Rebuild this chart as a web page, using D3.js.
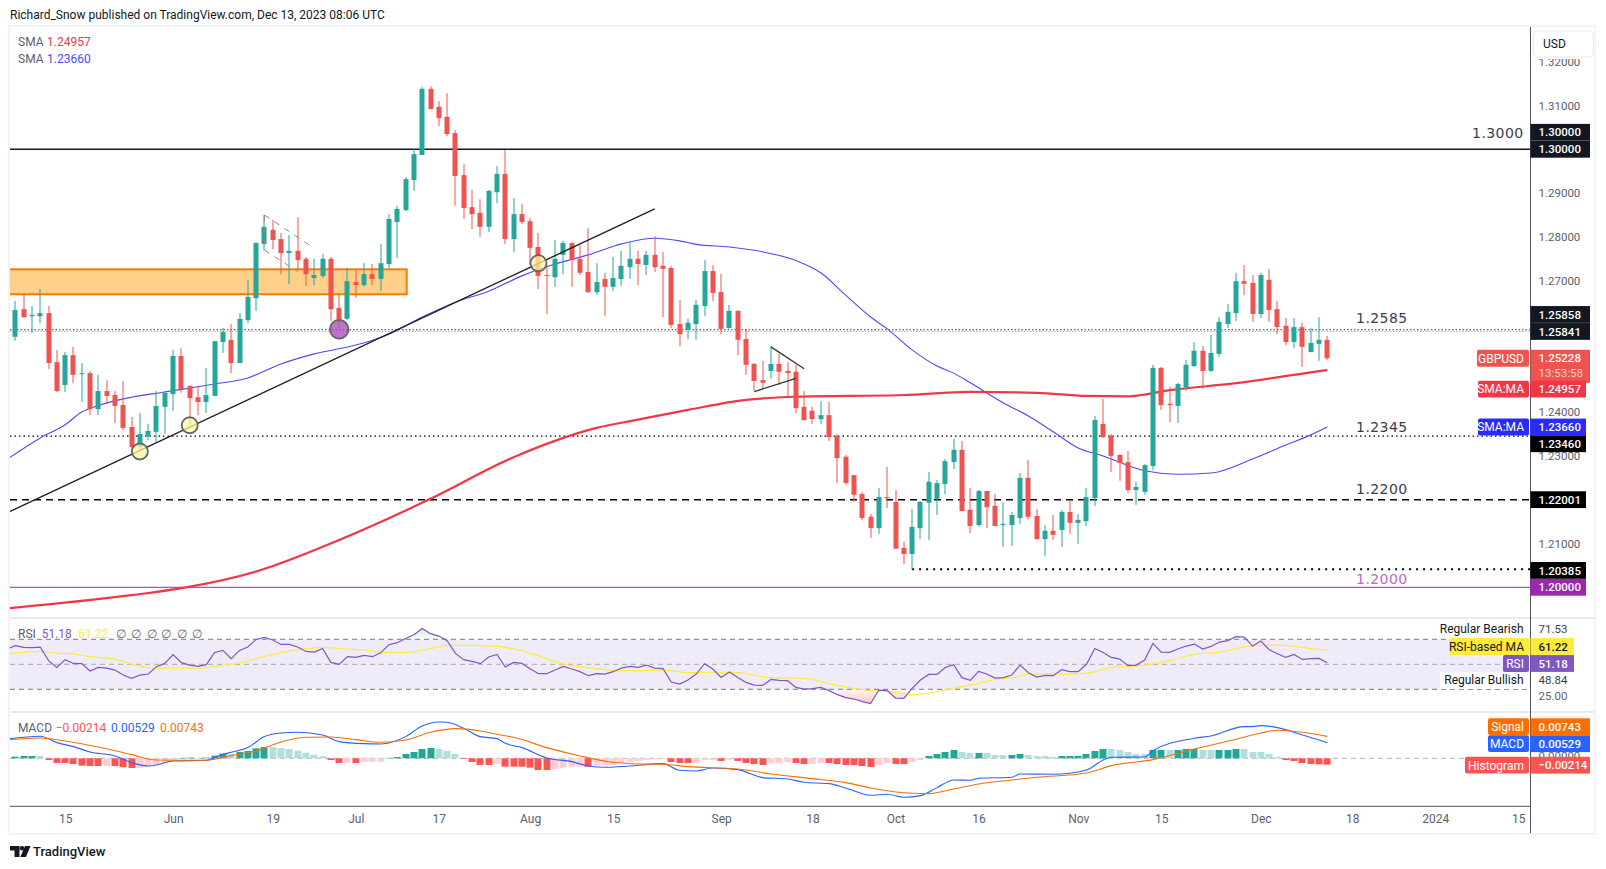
<!DOCTYPE html>
<html>
<head>
<meta charset="utf-8">
<title>GBPUSD</title>
<script src="https://cdn.jsdelivr.net/npm/d3@7"></script>
<style>
  html, body { margin: 0; padding: 0; background: #fff; }
  svg { display: block; }
  text { font-family: Roboto, "Noto Sans", sans-serif; font-size: 12px; }
  .axis path, .axis line { display: none; }
  .axis text { fill: #5d606b; font-family: Roboto, sans-serif; font-size: 12px; }
  .price-axis text { font-size: 11.5px; }
</style>
</head>
<body>
<div id="chart-area"></div>
<script>
// DATA: daily GBPUSD candles, one entry per trading day
const opens = [1.2572,1.2635,1.2619,1.2619,1.2626,1.2514,1.2462,1.2530,1.2487,1.2489,
  1.2407,1.2448,1.2439,1.2416,1.2366,1.2320,1.2345,1.2355,1.2412,1.2441,
  1.2528,1.2460,1.2434,1.2423,1.2437,1.2560,1.2565,1.2512,1.2610,1.2660,
  1.2784,1.2816,1.2795,1.2763,1.2768,1.2750,1.2706,1.2711,1.2750,1.2638,
  1.2613,1.2697,1.2690,1.2715,1.2704,1.2738,1.2834,1.2861,1.2930,1.2987,
  1.3138,1.3097,1.3074,1.3037,1.2941,1.2868,1.2855,1.2823,1.2902,1.2944,
  1.2795,1.2852,1.2836,1.2777,1.2713,1.2708,1.2759,1.2786,1.2750,1.2720,
  1.2674,1.2704,1.2686,1.2704,1.2731,1.2750,1.2736,1.2759,1.2734,1.2729,
  1.2601,1.2588,1.2601,1.2642,1.2722,1.2674,1.2592,1.2631,1.2567,1.2510,
  1.2473,1.2494,1.2510,1.2494,1.2492,1.2412,1.2403,1.2384,1.2393,1.2346,
  1.2298,1.2256,1.2213,1.2161,1.2135,1.2206,1.2195,1.2090,1.2076,1.2135,
  1.2193,1.2202,1.2236,1.2286,1.2314,1.2177,1.2142,1.2220,1.2186,1.2142,
  1.2142,1.2158,1.2250,1.2163,1.2110,1.2129,1.2131,1.2172,1.2147,1.2151,
  1.2204,1.2373,1.2346,1.2302,1.2286,1.2222,1.2218,1.2277,1.2501,1.2419,
  1.2414,1.2457,1.2505,1.2540,1.2494,1.2533,1.2601,1.2626,1.2699,1.2695,
  1.2624,1.2702,1.2635,1.2597,1.2560,1.2594,1.2537,1.2556,1.2565]
const highs = [1.2654,1.2670,1.2642,1.2681,1.2642,1.2542,1.2537,1.2549,1.2512,1.2494,
  1.2485,1.2473,1.2448,1.2471,1.2389,1.2398,1.2373,1.2448,1.2448,1.2542,
  1.2546,1.2460,1.2460,1.2501,1.2562,1.2592,1.2601,1.2626,1.2702,1.2788,
  1.2850,1.2839,1.2809,1.2804,1.2845,1.2754,1.2750,1.2761,1.2754,1.2667,
  1.2729,1.2724,1.2740,1.2738,1.2784,1.2852,1.2871,1.2937,1.3003,1.3142,
  1.3144,1.3110,1.3128,1.3044,1.2966,1.2907,1.2886,1.2907,1.2962,1.2998,
  1.2889,1.2875,1.2843,1.2809,1.2736,1.2793,1.2791,1.2788,1.2781,1.2820,
  1.2740,1.2718,1.2754,1.2768,1.2788,1.2768,1.2768,1.2802,1.2766,1.2734,
  1.2656,1.2613,1.2656,1.2747,1.2736,1.2715,1.2645,1.2633,1.2590,1.2512,
  1.2517,1.2551,1.2533,1.2514,1.2508,1.2448,1.2412,1.2425,1.2423,1.2350,
  1.2302,1.2256,1.2218,1.2167,1.2227,1.2275,1.2222,1.2104,1.2179,1.2197,
  1.2263,1.2245,1.2293,1.2339,1.2334,1.2227,1.2222,1.2220,1.2213,1.2195,
  1.2172,1.2261,1.2291,1.2179,1.2142,1.2165,1.2177,1.2199,1.2167,1.2227,
  1.2391,1.2430,1.2350,1.2304,1.2311,1.2241,1.2282,1.2508,1.2503,1.2457,
  1.2467,1.2519,1.2560,1.2551,1.2576,1.2617,1.2647,1.2718,1.2736,1.2713,
  1.2718,1.2727,1.2654,1.2615,1.2615,1.2604,1.2592,1.2617,1.2574]
const lows = [1.2563,1.2615,1.2581,1.2603,1.2498,1.2446,1.2446,1.2466,1.2423,1.2393,
  1.2393,1.2418,1.2375,1.2359,1.2313,1.2313,1.2336,1.2332,1.2350,1.2403,
  1.2444,1.2371,1.2393,1.2398,1.2437,1.2535,1.2489,1.2512,1.2603,1.2631,
  1.2770,1.2772,1.2715,1.2692,1.2724,1.2688,1.2690,1.2706,1.2608,1.2591,
  1.2610,1.2660,1.2686,1.2690,1.2676,1.2727,1.2752,1.2859,1.2905,1.2987,
  1.3092,1.3053,1.3030,1.2871,1.2841,1.2818,1.2800,1.2811,1.2877,1.2784,
  1.2765,1.2829,1.2736,1.2681,1.2624,1.2686,1.2715,1.2686,1.2713,1.2672,
  1.2667,1.2619,1.2676,1.2688,1.2704,1.2690,1.2713,1.2720,1.2617,1.2592,
  1.2551,1.2567,1.2565,1.2619,1.2654,1.2578,1.2590,1.2530,1.2485,1.2448,
  1.2453,1.2476,1.2462,1.2437,1.2398,1.2380,1.2373,1.2373,1.2334,1.2238,
  1.2234,1.2195,1.2154,1.2113,1.2122,1.2181,1.2088,1.2053,1.2041,1.2110,
  1.2108,1.2165,1.2213,1.2270,1.2174,1.2124,1.2138,1.2135,1.2140,1.2092,
  1.2094,1.2145,1.2156,1.2108,1.2072,1.2108,1.2092,1.2122,1.2099,1.2140,
  1.2186,1.2341,1.2263,1.2243,1.2215,1.2188,1.2211,1.2268,1.2405,1.2377,
  1.2375,1.2448,1.2503,1.2453,1.2492,1.2526,1.2592,1.2608,1.2667,1.2606,
  1.2615,1.2606,1.2578,1.2553,1.2546,1.2503,1.2537,1.2517,1.2519]
const closes = [1.2633,1.2617,1.2622,1.2626,1.2512,1.2448,1.2530,1.2485,1.2489,1.2407,
  1.2448,1.2437,1.2414,1.2364,1.2320,1.2350,1.2357,1.2414,1.2444,1.2528,
  1.2453,1.2432,1.2423,1.2439,1.2562,1.2583,1.2512,1.2613,1.2663,1.2786,
  1.2823,1.2793,1.2763,1.2768,1.2747,1.2715,1.2713,1.2750,1.2635,1.2610,
  1.2699,1.2690,1.2715,1.2704,1.2740,1.2841,1.2864,1.2932,1.2989,1.3138,
  1.3092,1.3071,1.3035,1.2939,1.2866,1.2852,1.2823,1.2905,1.2944,1.2795,
  1.2852,1.2834,1.2775,1.2711,1.2711,1.2750,1.2786,1.2747,1.2718,1.2674,
  1.2697,1.2686,1.2706,1.2734,1.2750,1.2738,1.2759,1.2731,1.2727,1.2599,
  1.2578,1.2604,1.2645,1.2722,1.2672,1.2590,1.2631,1.2565,1.2508,1.2471,
  1.2467,1.2510,1.2492,1.2489,1.2409,1.2382,1.2384,1.2393,1.2343,1.2295,
  1.2238,1.2211,1.2158,1.2135,1.2206,1.2204,1.2088,1.2076,1.2138,1.2195,
  1.2241,1.2238,1.2288,1.2314,1.2174,1.2140,1.2220,1.2183,1.2140,1.2145,
  1.2165,1.2250,1.2161,1.2110,1.2129,1.2120,1.2172,1.2147,1.2154,1.2206,
  1.2382,1.2343,1.2300,1.2284,1.2222,1.2229,1.2279,1.2501,1.2416,1.2416,
  1.2464,1.2508,1.2540,1.2494,1.2535,1.2606,1.2629,1.2699,1.2693,1.2624,
  1.2713,1.2633,1.2594,1.2560,1.2594,1.2549,1.2558,1.2565,1.2523]

// moving averages, read at these bars
const sma200Bars = [-1,14,20,29,39,50,60,70,75,81,88,94,107,115,123,129,134,139,147,155,158]
const sma200Vals = [1.1952,1.1982,1.1998,1.2036,1.2108,1.2202,1.2297,1.2364,1.2383,1.2405,1.2428,1.2435,1.2439,1.2446,1.2444,1.2437,1.2436,1.2450,1.2466,1.2488,1.2496]
const sma50Bars = [-1,3,6,8,10,14,18,24,28,32,36,41,45,49,53,57,61,65,69,73,77,80,82,86,90,94,97,100,103,105,108,111,113,115,119,122,125,128,131,136,140,144,149,153,156,158]
const sma50Vals = [1.2292,1.2341,1.2371,1.2400,1.2415,1.2434,1.2446,1.2464,1.2478,1.2510,1.2533,1.2553,1.2578,1.2617,1.2651,1.2676,1.2711,1.2738,1.2759,1.2784,1.2797,1.2791,1.2783,1.2777,1.2766,1.2746,1.2718,1.2667,1.2617,1.2590,1.2542,1.2505,1.2489,1.2467,1.2421,1.2391,1.2355,1.2318,1.2300,1.2266,1.2258,1.2261,1.2293,1.2325,1.2348,1.2366]

// RSI, first entry is the bar before the first candle
const rsiVals = [62.2,
  64.9,63.6,63.3,63.8,52.9,47.5,53.7,50.7,50.5,44.6,
  47.5,47.0,45.4,41.4,38.7,41.4,42.2,48.1,50.7,57.7,
  51.3,49.4,48.3,49.7,59.5,61.1,54.5,61.1,63.8,69.9,
  71.5,69.4,65.9,65.9,63.8,60.3,59.8,62.7,51.5,49.9,
  56.1,55.5,57.1,56.1,59.3,65.7,67.3,70.7,73.7,78.7,
  74.5,72.6,68.9,58.7,53.7,52.3,50.5,55.8,57.9,47.8,
  51.5,50.7,46.5,42.5,42.5,45.4,48.3,46.2,44.1,40.9,
  42.5,42.2,44.1,47.0,48.3,47.5,49.4,47.0,46.5,35.8,
  34.2,37.4,42.2,50.5,46.2,39.5,43.8,39.5,35.5,33.4,
  33.1,37.9,37.1,36.9,31.5,30.2,30.5,31.5,28.9,25.7,
  23.3,22.2,20.1,18.5,29.4,28.9,23.0,22.7,30.7,37.4,
  41.9,41.9,47.5,49.7,39.3,37.1,44.3,42.2,39.0,39.3,
  41.4,49.4,43.3,39.8,41.1,40.9,45.7,44.1,44.1,50.0,
  62.7,59.5,55.5,54.2,48.9,49.4,53.4,66.7,59.8,59.5,
  62.2,64.6,66.2,62.2,64.3,67.8,68.9,72.1,71.8,64.6,
  68.6,61.7,58.5,55.5,57.9,53.9,54.5,54.7,51.2]
const rsiMaBars = [-1,3,5,7,9,12,14,17,19,22,26,28,31,33,37,40,42,44,47,50,52,54,58,61,64,66,69,72,75,78,81,84,87,91,95,98,103,105,108,110,113,116,118,120,122,124,127,130,132,136,139,142,145,149,151,154,156,158]
const rsiMaVals = [58.5,60.4,59.0,58.2,56.1,54.2,50.2,46.8,47.0,47.0,50.0,52.6,58.0,60.6,63.6,62.2,61.7,59.6,59.6,62.5,65.2,65.2,64.3,60.9,54.5,50.2,47.3,45.2,44.9,45.4,43.3,43.8,43.3,39.3,38.8,34.5,28.9,28.4,25.7,27.0,30.8,34.8,37.7,39.3,42.2,42.5,42.0,44.1,47.3,49.4,52.9,58.0,59.8,64.9,65.4,64.6,62.5,61.4]

// MACD histogram, one per candle
const histVals = [.00057,.00079,.00080,.00078,-.00057,-.00158,-.00160,-.00192,-.00249,-.00260,
  -.00262,-.00258,-.00262,-.00305,-.00328,-.00325,-.00237,-.00215,-.00147,-.00079,
  .00011,.00022,.00015,.00023,.00090,.00158,.00150,.00215,.00249,.00339,
  .00384,.00380,.00350,.00316,.00260,.00192,.00124,.00079,-.00057,-.00158,
  -.00155,-.00160,-.00124,-.00120,-.00118,.00011,.00045,.00147,.00215,.00316,
  .00350,.00316,.00249,.00147,-.00023,-.00124,-.00226,-.00228,-.00192,
  -.00283,-.00284,-.00285,-.00316,-.00396,-.00398,-.00362,-.00316,-.00283,-.00280,-.00285,
  -.00249,-.00226,-.00224,-.00158,-.00124,-.00090,-.00057,-.00034,-.00023,-.00124,
  -.00158,-.00160,-.00156,-.00057,-.00055,-.00090,-.00057,-.00090,-.00158,-.00192,
  -.00226,-.00158,-.00156,-.00124,-.00158,-.00192,-.00190,-.00158,-.00160,-.00192,
  -.00226,-.00228,-.00260,-.00294,-.00226,-.00158,-.00192,-.00194,-.00124,-.00057,
  .00079,.00147,.00215,.00283,.00215,.00181,.00183,.00180,.00113,.00112,
  .00114,.00147,.00113,.00079,.00078,.00045,.00079,.00080,.00081,.00147,
  .00249,.00316,.00315,.00283,.00215,.00147,.00146,.00283,.00284,.00282,
  .00283,.00316,.00317,.00283,.00282,.00283,.00284,.00316,.00315,.00215,
  .00214,.00147,.00045,-.00057,-.00090,-.00158,-.00190,-.00205,-.00214]
const macdBars = [-1,1,3,5,7,9,12,14,16,17,19,23,25,26,28,30,32,34,37,39,42,44,47,49,51,52,54,56,58,59,61,64,67,69,71,74,78,80,82,84,87,90,93,95,98,100,103,105,107,109,111,113,115,116,120,121,125,129,131,132,136,137,142,144,148,149,150,152,155,157,158]
const macdVals = [.00655,.00712,.00746,.00531,.00396,.00215,.00079,-.00147,-.00260,-.00226,-.00090,-.00068,.00136,.00203,.00362,.00735,.00859,.00881,.00791,.00565,.00497,.00486,.00735,.01096,.01232,.01220,.01017,.00735,.00667,.00509,.00362,.00011,-.00113,-.00260,-.00305,-.00260,-.00181,-.00407,-.00429,-.00328,-.00384,-.00655,-.00701,-.00814,-.00859,-.01006,-.01254,-.01220,-.01322,-.01266,-.00994,-.00735,-.00746,-.00678,-.00644,-.00531,-.00542,-.00396,-.00057,.00034,.00045,.00260,.00678,.00757,.01074,.01074,.01107,.01040,.00791,.00621,.00529]
const signalBars = [-1,3,6,10,14,17,21,23,26,29,32,35,38,41,44,47,50,53,56,58,60,64,68,72,75,78,81,87,91,96,100,103,108,110,113,116,120,123,129,132,137,142,147,150,152,155,158]
const signalVals = [.00622,.00689,.00588,.00384,.00124,-.00057,-.00068,-.00068,.00090,.00249,.00554,.00712,.00723,.00633,.00542,.00622,.00881,.01006,.00927,.00814,.00712,.00362,.00079,-.00136,-.00192,-.00203,-.00283,-.00362,-.00531,-.00689,-.00825,-.01006,-.01187,-.01198,-.01040,-.00870,-.00735,-.00644,-.00497,-.00249,-.00045,.00316,.00644,.00859,.00949,.00881,.00743]

// axis ticks
const priceTicks = [1.32,1.31,1.29,1.28,1.27,1.24,1.23,1.21]
const timeTickBars = [6,19,31,41,51,62,72,85,96,106,116,128,138,150,161,171,181]
const timeTickLabels = ["15","Jun","19","Jul","17","Aug","15","Sep","18","Oct","16","Nov","15","Dec","18","2024","15"]

// drawn levels and their text
const levelValues = [1.3000,1.2345,1.2200,1.2000]
const levelLabels = ["1.3000","1.2345","1.2200","1.2000"]
const upperDotted = [1.2588,1.2584]
const supportLow = 1.20410
const zoneTop = 1.2726, zoneBottom = 1.2669

// CHART DIMENSIONS
const WIDTH = 1606, HEIGHT = 869
const PLOT = {LEFT: 10, RIGHT: 1530.5}
const MAIN = {TOP: 27, BOTTOM: 617}
const RSI = {TOP: 619, BOTTOM: 711}
const MACD = {TOP: 713, BOTTOM: 805}
const C = {up: "#26a69a", down: "#ef5350", axis: "#50535e", sep: "#e0e3eb", frame: "#f0f3fa",
  ink: "#131722", sma200: "#f23645", sma50: "#4a4aff", rsi: "#7e57c2", rsiMa: "#ffeb3b",
  macd: "#2962ff", signal: "#ff6d00", histRed: "#ff5252", purple: "#9c27b0", tag: "#3b3e48"}

// SCALES
const x = d3.scaleLinear().domain([0, 158]).range([15.33, 1327.3])
const y = d3.scaleLinear().domain([1.20, 1.30]).range([587.3, 149.3])
const yRsi = d3.scaleLinear().domain([30, 70]).range([689.3, 639.3])
const yMacd = d3.scaleLinear().domain([-0.01, 0.01]).range([787.8, 728.8])

const svg = d3.select("#chart-area").append("svg")
    .attr("width", WIDTH)
    .attr("height", HEIGHT)
const defs = svg.append("defs")

function addClip(id, top, bottom) {
  defs.append("clipPath").attr("id", id).append("rect")
      .attr("x", PLOT.LEFT).attr("y", top)
      .attr("width", PLOT.RIGHT - PLOT.LEFT).attr("height", bottom - top)
}
addClip("clip-main", MAIN.TOP, MAIN.BOTTOM)
addClip("clip-rsi", RSI.TOP, RSI.BOTTOM)
addClip("clip-macd", MACD.TOP, MACD.BOTTOM)

const lowGrad = defs.append("linearGradient").attr("id", "rsi-low")
    .attr("gradientUnits", "userSpaceOnUse").attr("x1", 0).attr("x2", 0)
    .attr("y1", yRsi(30)).attr("y2", yRsi(18))
lowGrad.append("stop").attr("offset", 0).attr("stop-color", "#f23645").attr("stop-opacity", 0.03)
lowGrad.append("stop").attr("offset", 1).attr("stop-color", "#f23645").attr("stop-opacity", 0.3)
const highGrad = defs.append("linearGradient").attr("id", "rsi-high")
    .attr("gradientUnits", "userSpaceOnUse").attr("x1", 0).attr("x2", 0)
    .attr("y1", yRsi(70)).attr("y2", yRsi(80))
highGrad.append("stop").attr("offset", 0).attr("stop-color", "#4caf50").attr("stop-opacity", 0.03)
highGrad.append("stop").attr("offset", 1).attr("stop-color", "#4caf50").attr("stop-opacity", 0.25)

// FRAME
svg.append("rect").attr("x", 9).attr("y", 26).attr("width", 1586).attr("height", 808)
    .attr("fill", "none").attr("stroke", C.frame).attr("stroke-width", 2)
;[618, 712].forEach(py => {
  svg.append("line").attr("x1", PLOT.LEFT).attr("x2", 1594).attr("y1", py).attr("y2", py)
      .attr("stroke", C.sep).attr("stroke-width", 1.5)
})

// MAIN PANE
const main = svg.append("g").attr("clip-path", "url(#clip-main)")

// --- + supply zone
main.append("rect")
    .attr("x", PLOT.LEFT - 4)
    .attr("y", y(zoneTop))
    .attr("width", 406.7 - PLOT.LEFT + 4)
    .attr("height", y(zoneBottom) - y(zoneTop))
    .attr("fill", "#ffd08a")
    .attr("stroke", "#f57c00")
    .attr("stroke-width", 2)

// --- + horizontal levels
function hLine(value, color, width, dash, fromX) {
  main.append("line")
      .attr("x1", fromX === undefined ? PLOT.LEFT : fromX).attr("x2", PLOT.RIGHT)
      .attr("y1", y(value)).attr("y2", y(value))
      .attr("stroke", color).attr("stroke-width", width)
      .attr("stroke-dasharray", dash)
}
hLine(levelValues[0], C.ink, 1.5, null)
hLine(upperDotted[1], "#b8bac0", 1, "1.5 1.5")
hLine(upperDotted[0], "#333", 1, "1.5 2")
hLine(levelValues[1], "#000", 1.2, "1.5 3")
hLine(levelValues[2], "#000", 1.5, "7 5")
hLine(supportLow, "#000", 2, "2 5", x(108))
hLine(levelValues[3], C.purple, 1)

// --- + moving averages
const knotLine = (bars, vals, scale, curve) => d3.line()
    .x((d, i) => x(bars[i]))
    .y(d => scale(d))
    .curve(curve || d3.curveMonotoneX)(vals)

main.append("path").attr("d", knotLine(sma50Bars, sma50Vals, y))
    .attr("fill", "none").attr("stroke", C.sma50).attr("stroke-width", 1.1)
main.append("path").attr("d", knotLine(sma200Bars, sma200Vals, y))
    .attr("fill", "none").attr("stroke", C.sma200).attr("stroke-width", 2.2)

// --- + candles
const candles = main.selectAll(".candle")
    .data(d3.range(opens.length))
    .enter().append("g")
    .attr("class", "candle")
    .attr("fill", i => closes[i] >= opens[i] ? C.up : C.down)
candles.append("rect")
    .attr("x", i => Math.round(x(i)) - 0.5)
    .attr("width", 1)
    .attr("y", i => y(highs[i]))
    .attr("height", i => y(lows[i]) - y(highs[i]))
candles.append("rect")
    .attr("x", i => Math.round(x(i)) - 2.5)
    .attr("width", 5)
    .attr("y", i => y(Math.max(opens[i], closes[i])))
    .attr("height", i => Math.max(1, Math.abs(y(opens[i]) - y(closes[i]))))

// --- + trendline, pennant, flag
function seg(bar1, p1, bar2, p2, color, width, dash) {
  main.append("line")
      .attr("x1", x(bar1)).attr("y1", y(p1))
      .attr("x2", x(bar2)).attr("y2", y(p2))
      .attr("stroke", color).attr("stroke-width", width)
      .attr("stroke-dasharray", dash)
}
seg(-1, 1.2170, 77, 1.2864, "#222", 1.4)
seg(91, 1.2549, 95, 1.2499, "#333", 1.3)
seg(89, 1.2447, 94, 1.2477, "#333", 1.3)
seg(30, 1.2850, 36, 1.2774, "#8a8a8a", 1, "6 6")
seg(30, 1.2770, 34, 1.2721, "#8a8a8a", 1, "6 6")
seg(30, 1.2850, 30, 1.2770, "#8a8a8a", 1, "6 6")

// --- + touch markers
const markerBars = [15, 21, 39, 63]
const markerPrices = [1.2310, 1.2370, 1.2589, 1.2740]
const markerFill = ["#fff59d", "#fff59d", "#ab47bc", "#fff59d"]
main.selectAll(".touch")
    .data(markerBars)
    .enter().append("circle")
    .attr("class", "touch")
    .attr("cx", d => x(d))
    .attr("cy", (d, i) => y(markerPrices[i]))
    .attr("r", (d, i) => i === 2 ? 9.3 : 8)
    .attr("fill", (d, i) => markerFill[i])
    .attr("fill-opacity", 0.75)
    .attr("stroke", "#666")
    .attr("stroke-width", 1.8)

// --- + level labels
const levelTextY = [133, 426.7, 489.3, 578.7]
const levelTextX = [1523.5, 1407.5, 1407.5, 1407.5]
svg.selectAll(".level-label")
    .data(levelLabels)
    .enter().append("text")
    .attr("class", "level-label")
    .attr("x", (d, i) => levelTextX[i])
    .attr("y", (d, i) => levelTextY[i])
    .attr("dy", "0.36em")
    .attr("text-anchor", "end")
    .attr("fill", (d, i) => i === 3 ? "#ba68c8" : C.tag)
    .style("font-family", "DejaVu Sans")
    .style("font-size", "14px")
    .style("letter-spacing", "0.4px")
    .text(d => d)
svg.append("text")
    .attr("x", 1407.5).attr("y", 318.3).attr("dy", "0.36em")
    .attr("text-anchor", "end").attr("fill", C.tag)
    .style("font-family", "DejaVu Sans").style("font-size", "14px").style("letter-spacing", "0.4px")
    .text("1.2585")

// RSI PANE
const rsiG = svg.append("g").attr("clip-path", "url(#clip-rsi)")
rsiG.append("rect")
    .attr("x", PLOT.LEFT).attr("width", PLOT.RIGHT - PLOT.LEFT)
    .attr("y", yRsi(70)).attr("height", yRsi(30) - yRsi(70))
    .attr("fill", "#7e57c2").attr("fill-opacity", 0.12)
;[70, 30].forEach(v => {
  rsiG.append("line").attr("x1", PLOT.LEFT).attr("x2", PLOT.RIGHT)
      .attr("y1", yRsi(v)).attr("y2", yRsi(v))
      .attr("stroke", "#787b86").attr("stroke-dasharray", "5 4")
})
rsiG.append("line").attr("x1", PLOT.LEFT).attr("x2", PLOT.RIGHT)
    .attr("y1", yRsi(50)).attr("y2", yRsi(50))
    .attr("stroke", "#a8a9b0").attr("stroke-dasharray", "5 4")

rsiG.append("path")
    .attr("d", d3.area().x((d, i) => x(i - 1)).y0(yRsi(30)).y1(d => yRsi(Math.min(d, 30)))(rsiVals))
    .attr("fill", "url(#rsi-low)")
rsiG.append("path")
    .attr("d", d3.area().x((d, i) => x(i - 1)).y0(yRsi(70)).y1(d => yRsi(Math.max(d, 70)))(rsiVals))
    .attr("fill", "url(#rsi-high)")
rsiG.append("path").attr("d", knotLine(rsiMaBars, rsiMaVals, yRsi))
    .attr("fill", "none").attr("stroke", C.rsiMa).attr("stroke-width", 1.2)
rsiG.append("path")
    .attr("d", d3.line().x((d, i) => x(i - 1)).y(d => yRsi(d))(rsiVals))
    .attr("fill", "none").attr("stroke", C.rsi).attr("stroke-width", 1.2)

// MACD PANE
const macdG = svg.append("g").attr("clip-path", "url(#clip-macd)")
macdG.append("line").attr("x1", PLOT.LEFT).attr("x2", PLOT.RIGHT)
    .attr("y1", yMacd(0)).attr("y2", yMacd(0))
    .attr("stroke", "#b2b5be").attr("stroke-dasharray", "5 4")

const histColor = (d, i) => {
  const prev = i > 0 ? histVals[i - 1] : 0
  if (d >= 0) return d > prev ? C.up : "#b2dfdb"
  return d < prev ? C.histRed : "#ffcdd2"
}
macdG.selectAll(".hist")
    .data(histVals)
    .enter().append("rect")
    .attr("class", "hist")
    .attr("x", (d, i) => Math.round(x(i)) - 3.5)
    .attr("width", 7)
    .attr("y", d => yMacd(Math.max(d, 0)))
    .attr("height", d => Math.abs(yMacd(d) - yMacd(0)))
    .attr("fill", histColor)
macdG.append("path").attr("d", knotLine(macdBars, macdVals, yMacd))
    .attr("fill", "none").attr("stroke", C.macd).attr("stroke-width", 1.1)
macdG.append("path").attr("d", knotLine(signalBars, signalVals, yMacd))
    .attr("fill", "none").attr("stroke", C.signal).attr("stroke-width", 1.1)

// AXES
svg.append("line").attr("x1", PLOT.RIGHT).attr("x2", PLOT.RIGHT).attr("y1", 27).attr("y2", 833)
    .attr("stroke", C.axis)
svg.append("line").attr("x1", PLOT.LEFT).attr("x2", PLOT.RIGHT).attr("y1", 806.3).attr("y2", 806.3)
    .attr("stroke", C.axis)

svg.append("g")
    .attr("class", "axis price-axis")
    .attr("transform", `translate(${PLOT.RIGHT}, 0)`)
    .call(d3.axisRight(y).tickValues(priceTicks).tickFormat(d3.format(".5f")).tickSize(0).tickPadding(8))
svg.append("g")
    .attr("class", "axis")
    .attr("transform", "translate(0, 806.3)")
    .call(d3.axisBottom(x).tickValues(timeTickBars).tickFormat((d, i) => timeTickLabels[i]).tickSize(0).tickPadding(8))

// --- + USD button, hides the top of the 1.32 tick
svg.append("rect").attr("x", PLOT.RIGHT + 1).attr("y", 28).attr("width", 63).attr("height", 31).attr("fill", "#fff")
svg.append("rect").attr("x", 1533.5).attr("y", 31).attr("width", 60).attr("height", 26).attr("rx", 4)
    .attr("fill", "#fff").attr("stroke", "#e8e9ee")
svg.append("text").attr("x", 1543).attr("y", 44).attr("dy", "0.36em")
    .attr("fill", C.ink).text("USD")

// --- + price scale tags
const axisText = (tx, ty, txt, fill) => svg.append("text")
    .attr("x", tx).attr("y", ty).attr("dy", "0.36em").attr("fill", fill)
    .style("font-size", "11.5px").text(txt)

function axisTag(cy, txt, fill, textFill, right) {
  svg.append("rect")
      .attr("x", PLOT.RIGHT).attr("y", cy - 8.4)
      .attr("width", (right || 1590) - PLOT.RIGHT).attr("height", 16.8)
      .attr("fill", fill)
  axisText(1538.5, cy, txt, textFill || "#fff").style("font-weight", 500)
}
function sideTag(cy, txt, fill, width, textFill) {
  svg.append("rect")
      .attr("x", PLOT.RIGHT - 1.5 - width).attr("y", cy - 8.4)
      .attr("width", width).attr("height", 16.8).attr("rx", 2)
      .attr("fill", fill)
  svg.append("text")
      .attr("x", PLOT.RIGHT - 6.5).attr("y", cy).attr("dy", "0.36em")
      .attr("text-anchor", "end").attr("fill", textFill || "#fff").text(txt)
}

axisTag(y(1.30) - 17, "1.30000", C.ink)
axisTag(y(1.30), "1.30000", C.ink)
axisTag(y(1.25841) - 17, "1.25858", C.ink)
axisTag(y(1.25841), "1.25841", C.ink)

const lastY = y(closes[closes.length - 1])
svg.append("rect").attr("x", PLOT.RIGHT).attr("y", lastY - 8.4).attr("width", 59.5).attr("height", 33)
    .attr("fill", C.down)
axisText(1538.5, lastY, "1.25228", "#fff").style("font-weight", 500)
axisText(1538.5, lastY + 14.5, "13:53:58", "#fbd0cf")
sideTag(lastY, "GBPUSD", C.down, 52)

axisTag(y(sma200Vals[sma200Vals.length - 1]) + 19, "1.24957", C.sma200, "#fff", 1586)
sideTag(y(sma200Vals[sma200Vals.length - 1]) + 19, "SMA:MA", C.sma200, 51)
axisTag(y(1.2366), "1.23660", "#2a2aff", "#fff", 1586)
sideTag(y(1.2366), "SMA:MA", "#2a2aff", 51)
axisTag(y(1.2346) + 8, "1.23460", "#000", "#fff", 1586)
axisTag(y(1.22001), "1.22001", "#000", "#fff", 1586)
axisTag(y(1.20385), "1.20385", "#000", "#fff", 1586)
axisTag(y(1.20), "1.20000", C.purple, "#fff", 1586)

// --- + RSI scale tags
axisText(1538.5, 628.7, "71.53", "#3b3e48")
svg.append("text").attr("x", 1523.5).attr("y", 628.7).attr("dy", "0.36em")
    .attr("text-anchor", "end").attr("fill", C.ink).text("Regular Bearish")
axisTag(646.5, "61.22", C.rsiMa, C.ink, 1574)
sideTag(646.5, "RSI-based MA", C.rsiMa, 80, C.ink)
axisTag(663.5, "51.18", C.rsi, "#fff", 1574)
sideTag(663.5, "RSI", C.rsi, 26)
svg.append("rect").attr("x", 1440).attr("y", 672).attr("width", 89).attr("height", 17).attr("fill", "#fff")
svg.append("text").attr("x", 1523.5).attr("y", 680).attr("dy", "0.36em")
    .attr("text-anchor", "end").attr("fill", C.ink).text("Regular Bullish")
axisText(1538.5, 680, "48.84", "#3b3e48")
axisText(1538.5, yRsi(25), "25.00", "#5d606b")

// --- + MACD scale tags
axisText(1538.5, yMacd(0) - 2, "0.00000", "#5d606b")
axisTag(726.7, "0.00743", C.signal, "#fff", 1590)
sideTag(726.7, "Signal", C.signal, 41)
axisTag(743.7, "0.00529", C.macd, "#fff", 1590)
sideTag(743.7, "MACD", C.macd, 41)
axisTag(765.2, "\u22120.00214", C.histRed, "#fff", 1590)
sideTag(765.2, "Histogram", C.histRed, 64)

// LEGENDS
function legendRow(py, parts) {
  parts.forEach(p => {
    svg.append("text").attr("x", p[0]).attr("y", py).attr("dy", "0.36em")
        .attr("fill", p[2]).text(p[1])
  })
}
svg.append("text").attr("x", 10).attr("y", 14.5).attr("dy", "0.36em")
    .attr("fill", C.ink).text("Richard_Snow published on TradingView.com, Dec 13, 2023 08:06 UTC")
legendRow(41.7, [[18, "SMA", "#5d606b"], [47, "1.24957", C.sma200]])
legendRow(59, [[18, "SMA", "#5d606b"], [47, "1.23660", "#4a4aff"]])
const naX = [116, 131, 147, 161, 177, 192]
legendRow(634, [[18, "RSI", "#5d606b"], [41.7, "51.18", C.rsi], [78, "61.22", C.rsiMa]]
    .concat(naX.map(px => [px, "\u2205", "#5d606b"])))
legendRow(728, [[18, "MACD", "#5d606b"], [55.7, "\u22120.00214", C.histRed], [111, "0.00529", C.macd], [160, "0.00743", C.signal]])

// LOGO
svg.append("path")
    .attr("d", "M10 846h9.5v11h-5v-6.5H10z M25 846h5.5l-4.6 11h-5.6z")
    .attr("fill", C.ink)
svg.append("circle").attr("cx", 22).attr("cy", 848.3).attr("r", 2.3).attr("fill", C.ink)
svg.append("text").attr("x", 33).attr("y", 851.5).attr("dy", "0.36em")
    .attr("fill", C.ink).style("font-size", "13px").style("font-weight", 500).text("TradingView")
</script>
</body>
</html>
